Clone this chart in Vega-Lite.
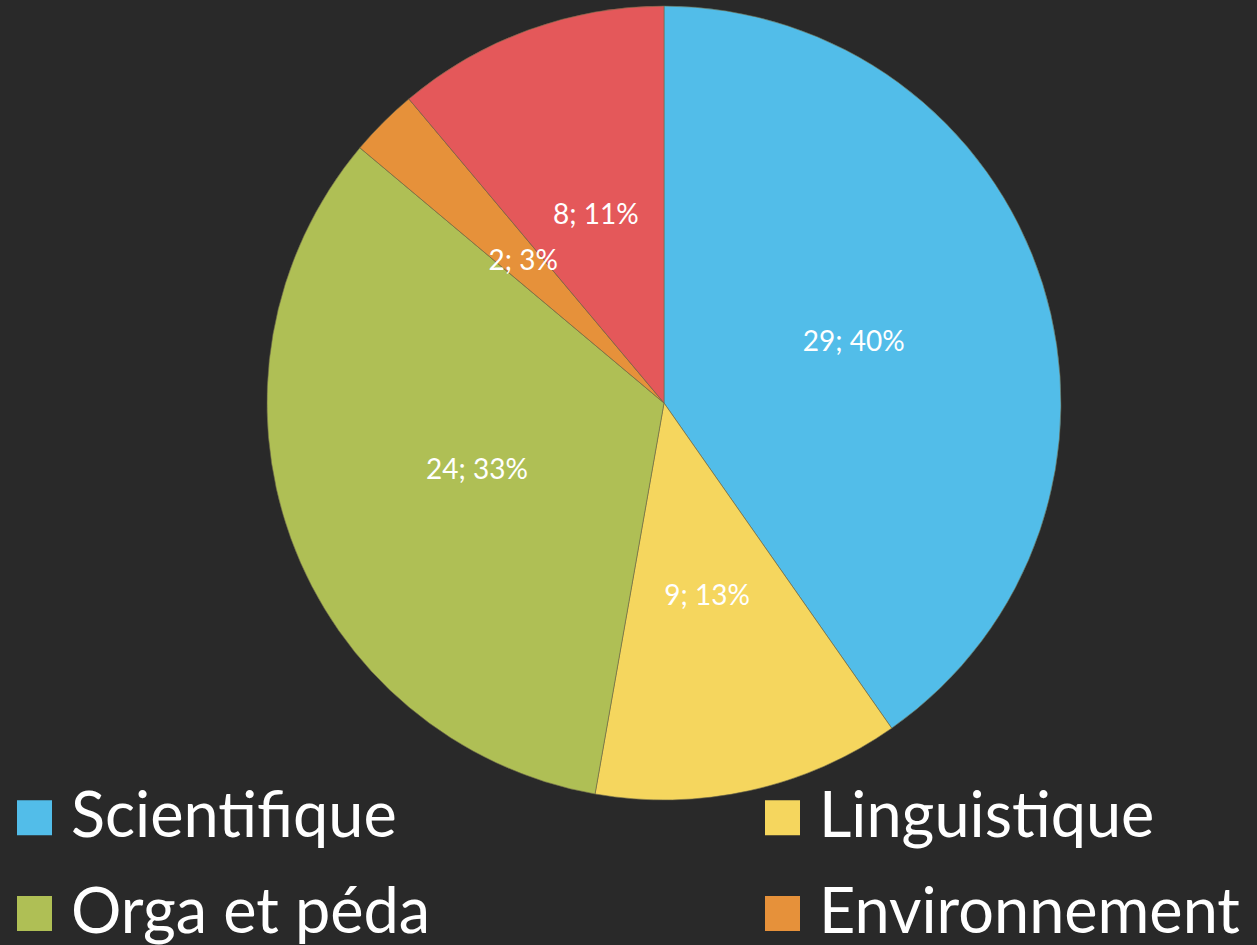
{
  "$schema": "https://vega.github.io/schema/vega-lite/v6.json",
  "width": 1128,
  "height": 806,
  "autosize": {"type": "none"},
  "padding": {"left": 100, "top": 0, "right": 29, "bottom": 139},
  "background": "#292929",
  "data": {
    "values": [
      {"categorie": "Scientifique", "nombre": 29, "ordre": 1, "label": "29; 40%"},
      {"categorie": "Linguistique", "nombre": 9, "ordre": 2, "label": "9; 13%"},
      {"categorie": "Orga et péda", "nombre": 24, "ordre": 3, "label": "24; 33%"},
      {"categorie": "Environnement", "nombre": 2, "ordre": 4, "label": "2; 3%"},
      {"categorie": "Autre", "nombre": 8, "ordre": 5, "label": "8; 11%"}
    ]
  },
  "encoding": {
    "theta": {"field": "nombre", "type": "quantitative", "stack": true},
    "order": {"field": "ordre", "type": "quantitative"}
  },
  "layer": [
    {
      "mark": {"type": "arc", "outerRadius": 397, "stroke": "#6e6a4a", "strokeWidth": 0.6},
      "encoding": {
        "color": {
          "field": "categorie",
          "type": "nominal",
          "scale": {
            "domain": ["Scientifique", "Linguistique", "Orga et péda", "Environnement", "Autre"],
            "range": ["#52bde9", "#f5d65e", "#afbf55", "#e6913a", "#e4585a"]
          },
          "legend": {
            "orient": "none",
            "direction": "horizontal",
            "legendX": -97,
            "legendY": 786,
            "columns": 2,
            "columnPadding": 320,
            "rowPadding": 32,
            "title": null,
            "values": ["Scientifique", "Linguistique", "Orga et péda", "Environnement"],
            "symbolType": "square",
            "symbolSize": 1225,
            "symbolStrokeWidth": 0,
            "symbolOpacity": 1,
            "labelFont": "Lato",
            "labelFontSize": 63,
            "labelColor": "white",
            "labelOffset": 5,
            "labelLimit": 700
          }
        }
      }
    },
    {
      "mark": {"type": "text", "radius": 199, "color": "white", "font": "Lato", "fontSize": 28},
      "encoding": {"text": {"field": "label", "type": "nominal"}}
    }
  ],
  "config": {"view": {"stroke": null}}
}
